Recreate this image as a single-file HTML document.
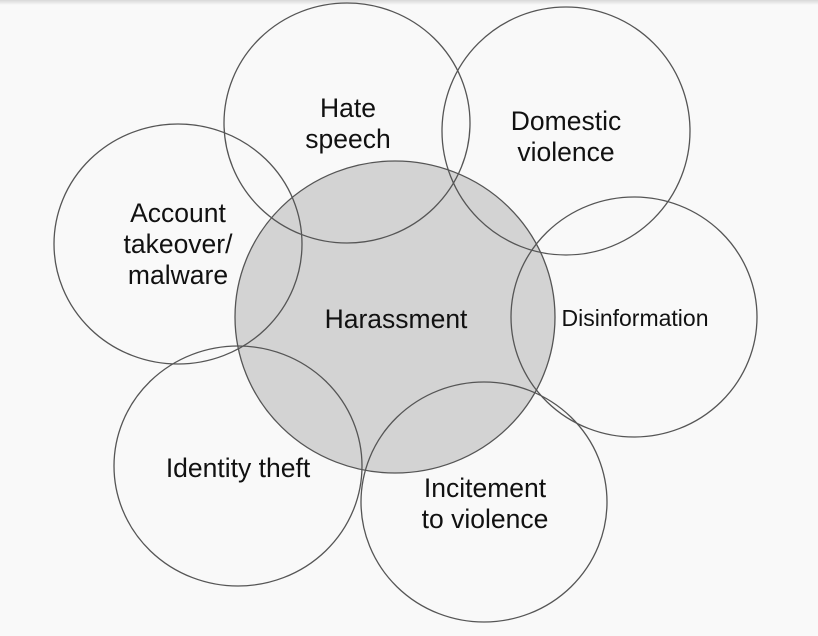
<!DOCTYPE html>
<html><head><style>
html,body{margin:0;padding:0;background:#f9f9f9;}
svg{display:block;}
text{font-family:"Liberation Sans",sans-serif;fill:#111;text-anchor:middle;}
</style></head><body>
<svg width="818" height="636" viewBox="0 0 818 636">
<defs><linearGradient id="g" x1="0" y1="0" x2="0" y2="1"><stop offset="0" stop-color="#d8d8d8"/><stop offset="1" stop-color="#f9f9f9"/></linearGradient></defs>
<rect x="0" y="0" width="818" height="636" fill="#f9f9f9"/>
<rect x="0" y="0" width="818" height="5" fill="url(#g)"/>
<g stroke="#555" stroke-width="1.3" fill="none">
<ellipse cx="395" cy="317" rx="160" ry="156" fill="#d3d3d3"/>
<ellipse cx="347" cy="123" rx="123" ry="120"/>
<ellipse cx="566" cy="131" rx="124" ry="124"/>
<ellipse cx="178" cy="244" rx="124" ry="120"/>
<ellipse cx="634" cy="317" rx="123" ry="120"/>
<ellipse cx="238" cy="466" rx="124" ry="120"/>
<ellipse cx="484" cy="502" rx="123" ry="120"/>
</g>
<g font-size="26.5">
<text x="348" y="117">Hate</text>
<text x="348" y="148">speech</text>
<text x="566" y="130">Domestic</text>
<text x="566" y="161">violence</text>
<text x="178" y="222">Account</text>
<text x="178" y="253">takeover/</text>
<text x="178" y="284">malware</text>
<text x="396" y="328">Harassment</text>
<text x="635" y="326" font-size="23">Disinformation</text>
<text x="238" y="477">Identity theft</text>
<text x="485" y="497">Incitement</text>
<text x="485" y="528">to violence</text>
</g>
</svg>
</body></html>
